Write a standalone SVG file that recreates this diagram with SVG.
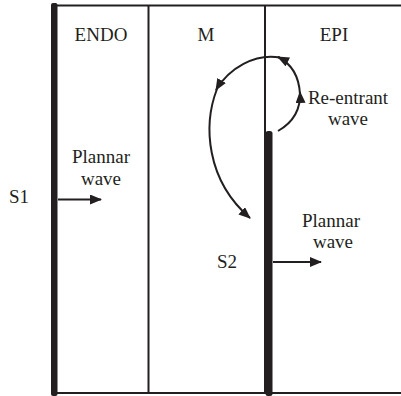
<svg xmlns="http://www.w3.org/2000/svg" width="401" height="396" viewBox="0 0 401 396">
<defs>
<style>
.t{font-family:"Liberation Serif","Times New Roman",serif;font-size:19px;fill:#231f20}
.c{text-anchor:middle}
.thin{stroke:#231f20;stroke-width:2;fill:none}
.thick{fill:#231f20}
.arr{stroke:#231f20;stroke-width:2;fill:none}
</style>
<marker id="ah" viewBox="0 0 12 10" refX="11" refY="5" markerWidth="12" markerHeight="10" markerUnits="userSpaceOnUse" orient="auto">
<path d="M0,0 L12,5 L0,10 Z" fill="#231f20"/>
</marker>
</defs>
<rect width="401" height="396" fill="#fff"/>
<g id="frame">
<line class="thin" x1="54" y1="5.5" x2="401" y2="5.5"/>
<line class="thin" x1="54" y1="393" x2="401" y2="393"/>
<line class="thin" x1="148.5" y1="5" x2="148.5" y2="393"/>
<line class="thin" x1="265" y1="5" x2="265" y2="393"/>
<rect id="s1-bar" class="thick" x="51" y="3" width="6.5" height="393" rx="2"/>
<rect id="s2-bar" class="thick" x="265.5" y="131" width="7" height="265" rx="2.5"/>
</g>
<g id="labels">
<text class="t c" x="101" y="41">ENDO</text>
<text class="t c" x="206" y="41">M</text>
<text class="t c" x="334" y="41">EPI</text>
</g>
<g id="s1">
<text class="t" x="9" y="203">S1</text>
<text class="t c" x="101" y="163">Plannar</text>
<text class="t c" x="101" y="185">wave</text>
</g>
<g id="s2">
<text class="t c" x="227" y="268">S2</text>
<text class="t c" x="331" y="227">Plannar</text>
<text class="t c" x="333" y="248">wave</text>
</g>
<g id="reentrant">
<text class="t c" x="348" y="104">Re-entrant</text>
<text class="t c" x="348" y="125">wave</text>
</g>
<g id="connectors">
<line class="arr" x1="58" y1="199.5" x2="101" y2="199.5" marker-end="url(#ah)"/>
<line class="arr" x1="273" y1="262" x2="321" y2="262" marker-end="url(#ah)"/>
<path class="arr" d="M278,131 C292,123 301,111 300,92" marker-end="url(#ah)"/>
<path class="arr" d="M300,94 C299,77 292,64 278,57" marker-end="url(#ah)"/>
<path class="arr" d="M280,57.5 C255,53 229,68 216,90" marker-end="url(#ah)"/>
<path class="arr" d="M217,89 C203,125 206,180 250,218" marker-end="url(#ah)"/>
</g>
</svg>
